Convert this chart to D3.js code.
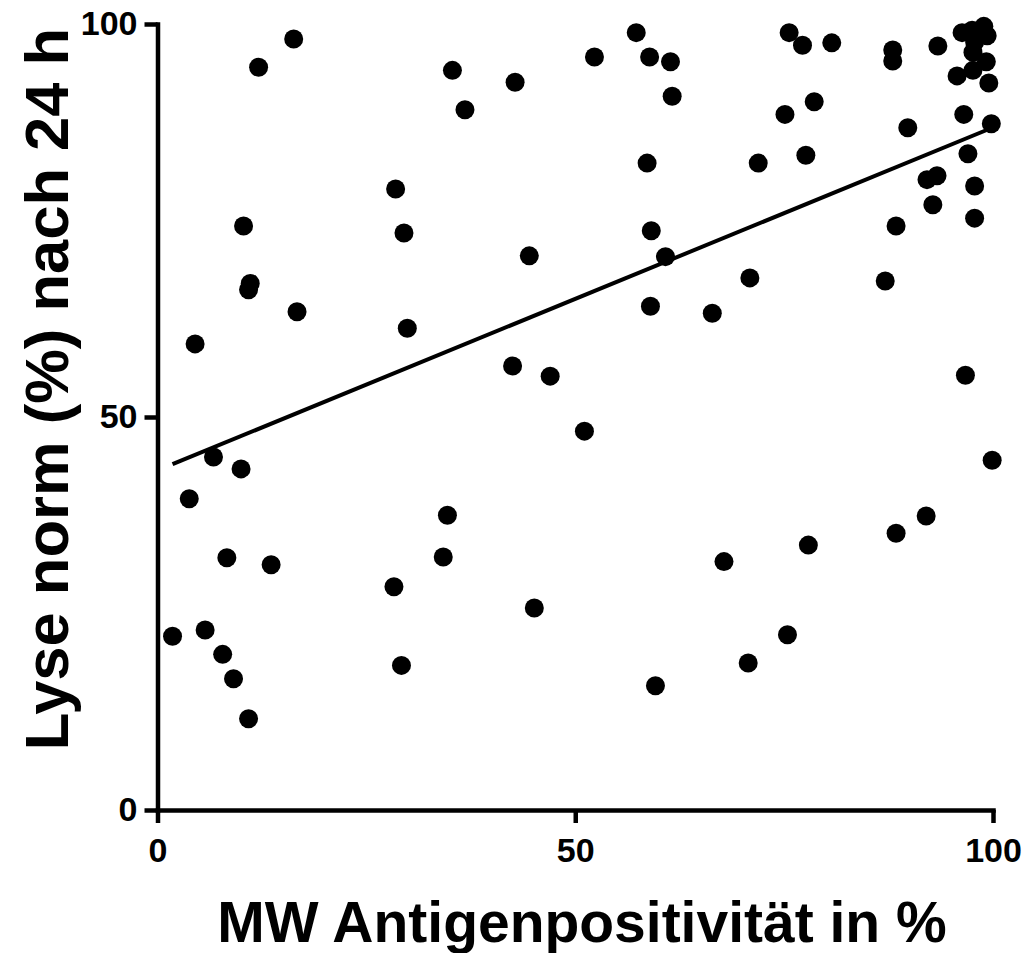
<!DOCTYPE html>
<html>
<head>
<meta charset="utf-8">
<script src="https://cdn.jsdelivr.net/npm/d3@7"></script>
<style>
  html, body { margin: 0; padding: 0; background: #fff; }
  svg { display: block; }
  text { font-family: "Liberation Sans", Arial, sans-serif; font-weight: bold; fill: #000; }
</style>
</head>
<body>
<svg id="chart" width="1027" height="953"></svg>
<script>
// Mean antigen positivity (%) per sample
const antigenPos = [
  1.8, 3.8, 4.5, 5.7, 6.7, 7.8, 8.3, 9.1, 10.0, 10.3, 10.9, 11.1, 10.9, 12.1, 13.6, 16.3, 16.7,
  28.3, 28.5, 29.2, 29.5, 29.9, 34.2, 34.7, 35.3, 36.8, 42.5, 42.8, 44.5, 45.1, 47.0, 51.1, 52.3,
  57.3, 58.6, 58.9, 59.0, 59.1, 59.6, 60.8, 61.4, 61.6, 66.4, 67.8, 70.7, 70.9, 71.9, 75.1, 75.4,
  75.6, 77.2, 77.6, 77.9, 78.6, 80.7, 87.1, 88.0, 88.0, 88.4, 88.4, 89.8, 92.1, 92.0, 92.8, 93.3,
  93.4, 95.7, 96.5, 96.7, 97.0, 96.3, 97.8, 97.8, 97.5, 98.9, 99.3, 97.8, 97.6, 99.2, 97.6, 99.5,
  99.8, 99.9
];
// Normalised lysis (%) after 24 h, same order
const lysisNorm = [
  22.1, 39.6, 59.3, 22.9, 44.9, 19.8, 32.1, 16.7, 43.4, 74.3, 11.6, 67.0, 66.2, 94.5, 31.2, 98.1, 63.4,
  28.4, 79.0, 18.4, 73.4, 61.3, 32.2, 37.5, 94.1, 89.1, 56.5, 92.6, 70.5, 25.7, 55.2, 48.2, 95.8,
  98.9, 82.3, 95.8, 64.1, 73.7, 15.8, 70.4, 95.2, 90.8, 63.2, 31.6, 18.7, 67.7, 82.3, 88.5, 22.3,
  98.9, 97.3, 83.3, 33.7, 90.1, 97.6, 67.3, 96.7, 95.3, 74.3, 35.2, 86.8, 80.2, 37.4, 77.0, 80.7,
  97.2, 93.4, 88.5, 55.3, 83.5, 98.9, 79.4, 75.3, 99.2, 99.7, 98.5, 97.7, 96.4, 95.2, 94.1, 92.5,
  87.3, 44.5
];
// Linear regression line endpoints [x, y]
const fitLine = [[1.8, 44.0], [99.9, 86.8]];
const xTicks = [0, 50, 100];
const yTicks = [0, 50, 100];
const xTitle = "MW Antigenpositivität in %";
const yTitle = "Lyse norm (%) nach 24 h";

const svg = d3.select("#chart");
const x = d3.scaleLinear().domain([0, 100]).range([157.5, 993]);
const y = d3.scaleLinear().domain([0, 100]).range([810, 24]);

// axes
const xAxis = d3.axisBottom(x).tickValues(xTicks).tickSize(13).tickSizeOuter(0).tickPadding(15).tickFormat(d3.format("d"));
const yAxis = d3.axisLeft(y).tickValues(yTicks).tickSize(13).tickSizeOuter(0).tickPadding(7).tickFormat(d3.format("d"));

const gx = svg.append("g").attr("transform", `translate(0,${y(0)})`).call(xAxis);
const gy = svg.append("g").attr("transform", `translate(${x(0)},0)`).call(yAxis);

[gx, gy].forEach(g => {
  g.select(".domain").attr("stroke", "#000").attr("stroke-width", 4.5).attr("stroke-linecap", "square");
  g.selectAll(".tick line").attr("stroke", "#000").attr("stroke-width", 4.5);
  g.selectAll(".tick text")
    .style("font-family", '"Liberation Sans", Arial, sans-serif')
    .style("font-weight", "bold")
    .style("font-size", "34px")
    .attr("fill", "#000");
});

// regression line
svg.append("line")
  .attr("x1", x(fitLine[0][0])).attr("y1", y(fitLine[0][1]))
  .attr("x2", x(fitLine[1][0])).attr("y2", y(fitLine[1][1]))
  .attr("stroke", "#000").attr("stroke-width", 4);

// data points
svg.append("g").selectAll("circle")
  .data(d3.zip(antigenPos, lysisNorm))
  .join("circle")
  .attr("cx", d => x(d[0]))
  .attr("cy", d => y(d[1]))
  .attr("r", 9.5)
  .attr("fill", "#000");

// axis titles
svg.append("text")
  .attr("x", 582).attr("y", 942)
  .attr("text-anchor", "middle")
  .style("font-size", "57px")
  .text(xTitle);

svg.append("text")
  .attr("transform", "translate(68,389) rotate(-90)")
  .attr("text-anchor", "middle")
  .style("font-size", "61.5px")
  .text(yTitle);
</script>
</body>
</html>
